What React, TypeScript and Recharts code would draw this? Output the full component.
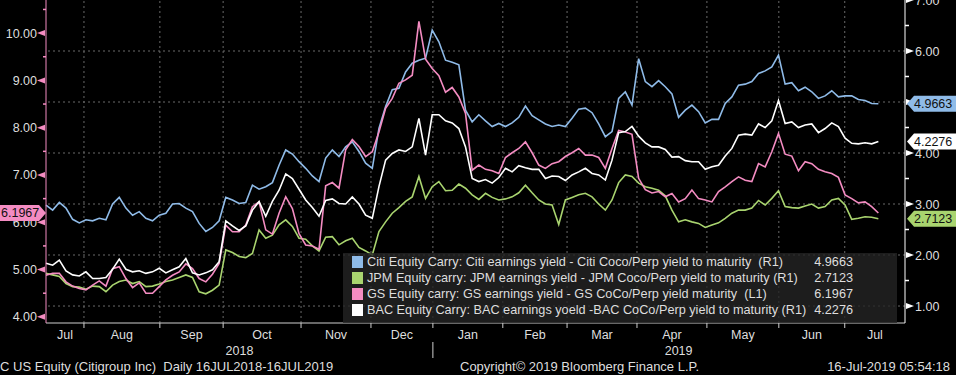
import React from 'react'
import { LineChart, Line, XAxis, YAxis, ReferenceLine } from 'recharts'

const W = 956
const H = 375

// sampled every 2 trading days, 16 Jul 2018 .. 16 Jul 2019
const CITI = [
  2.98, 2.88, 3.03, 2.92, 2.70, 2.63, 2.69, 2.67, 2.72, 2.69, 3.00, 3.13, 2.92, 2.78, 2.85, 2.72, 2.67, 2.78, 2.82, 3.00, 3.01, 2.92,
  2.85, 2.62, 2.46, 2.54, 2.67, 3.13, 3.08, 3.01, 3.03, 3.37, 3.29, 3.34, 3.42, 3.76, 4.06, 3.98, 3.83, 3.70, 3.55, 3.44, 3.90, 4.06,
  3.93, 4.12, 4.22, 4.03, 3.80, 3.70, 4.48, 4.91, 5.24, 5.27, 5.59, 5.76, 5.82, 5.86, 6.41, 6.18, 5.82, 5.78, 5.73, 4.84, 4.61,
  4.75, 4.63, 4.52, 4.58, 4.52, 4.59, 4.70, 4.92, 4.73, 4.65, 4.57, 4.52, 4.55, 4.52, 4.68, 4.86, 4.88, 4.79, 4.57, 4.32, 4.42, 5.07,
  5.20, 4.94, 5.85, 5.40, 5.30, 5.42, 5.30, 5.16, 4.70, 4.84, 4.94, 4.81, 4.59, 4.66, 4.66, 4.97, 5.10, 5.33, 5.35, 5.40, 5.56, 5.61,
  5.69, 5.92, 5.35, 5.38, 5.22, 5.29, 5.20, 5.07, 5.12, 5.22, 5.10, 5.12, 5.12, 5.05, 5.03, 4.97, 4.9663,
]
const JPM = [
  1.64, 1.61, 1.58, 1.44, 1.38, 1.37, 1.33, 1.39, 1.38, 1.28, 1.41, 1.48, 1.51, 1.44, 1.48, 1.38, 1.39, 1.43, 1.48, 1.51, 1.56, 1.61,
  1.56, 1.28, 1.24, 1.31, 1.41, 2.10, 2.05, 1.97, 1.95, 2.03, 2.49, 2.33, 2.39, 2.59, 2.69, 2.56, 2.33, 2.31, 2.18, 2.08, 2.35, 2.36,
  2.20, 2.28, 2.33, 2.15, 2.08, 2.00, 2.46, 2.65, 2.82, 2.93, 3.05, 3.14, 3.54, 3.11, 3.34, 3.44, 3.26, 3.27, 3.39, 3.31, 3.18,
  3.09, 3.21, 3.13, 3.08, 3.10, 3.14, 3.22, 3.37, 3.22, 3.08, 3.00, 2.98, 2.60, 3.08, 3.13, 3.18, 3.21, 3.14, 3.00, 2.88, 3.08, 3.42,
  3.57, 3.54, 3.41, 3.34, 3.31, 3.27, 3.16, 2.88, 2.65, 2.69, 2.65, 2.62, 2.54, 2.59, 2.63, 2.72, 2.82, 2.88, 2.88, 2.92, 3.07, 2.98,
  3.11, 3.26, 2.95, 2.93, 2.92, 2.96, 3.00, 2.92, 2.95, 3.08, 3.11, 2.98, 2.70, 2.72, 2.75, 2.74, 2.7123,
]
const GS = [
  4.88, 4.92, 4.92, 4.74, 4.65, 4.60, 4.57, 4.67, 4.76, 4.65, 5.02, 5.06, 4.81, 4.62, 4.72, 4.50, 4.50, 4.64, 4.78, 4.88, 4.95, 5.12,
  5.02, 4.81, 4.74, 4.90, 5.13, 5.94, 5.80, 5.80, 5.94, 6.33, 6.43, 5.84, 5.75, 6.19, 6.54, 6.29, 5.76, 5.52, 5.50, 5.43, 6.77, 6.84,
  6.72, 7.53, 7.75, 7.60, 7.39, 7.49, 7.91, 8.41, 8.62, 8.94, 9.01, 9.11, 10.25, 9.45, 9.25, 9.10, 8.75, 8.85, 8.65, 8.30, 7.10,
  7.21, 7.12, 7.09, 7.03, 7.37, 7.47, 7.56, 7.70, 7.47, 7.21, 7.14, 7.24, 7.28, 7.39, 7.47, 7.56, 7.42, 7.42, 7.37, 7.14, 7.56, 7.94,
  7.91, 7.86, 6.93, 6.69, 6.62, 6.65, 6.54, 6.61, 6.43, 6.50, 6.68, 6.50, 6.47, 6.43, 6.65, 6.75, 6.86, 6.96, 6.89, 6.86, 7.24, 7.17,
  7.49, 7.88, 7.44, 7.40, 7.09, 7.28, 7.24, 7.12, 7.07, 7.03, 6.95, 6.58, 6.50, 6.41, 6.43, 6.33, 6.1967,
]
const BAC = [
  1.84, 1.80, 1.90, 1.69, 1.61, 1.59, 1.67, 1.54, 1.54, 1.56, 1.72, 1.92, 1.72, 1.67, 1.69, 1.64, 1.67, 1.74, 1.65, 1.71, 1.77, 1.93,
  1.65, 1.61, 1.65, 1.71, 1.87, 2.67, 2.57, 2.48, 2.57, 2.88, 3.05, 2.76, 3.05, 3.27, 3.59, 3.50, 3.29, 3.08, 2.93, 2.76, 3.07, 3.10,
  3.01, 3.00, 3.14, 3.00, 2.78, 2.72, 3.34, 3.86, 3.99, 4.06, 4.03, 4.12, 4.68, 3.96, 4.75, 4.75, 4.63, 4.59, 4.48, 4.12, 3.50,
  3.44, 3.48, 3.41, 3.52, 3.70, 3.63, 3.75, 3.71, 3.68, 3.68, 3.50, 3.55, 3.54, 3.46, 3.57, 3.63, 3.70, 3.60, 3.57, 3.47, 3.86, 4.40,
  4.42, 4.52, 4.33, 4.20, 4.12, 4.12, 4.07, 3.92, 3.93, 3.85, 3.83, 3.83, 3.68, 3.73, 3.76, 3.94, 4.09, 4.35, 4.37, 4.35, 4.57, 4.50,
  4.63, 5.03, 4.58, 4.61, 4.50, 4.55, 4.57, 4.40, 4.48, 4.59, 4.52, 4.29, 4.19, 4.18, 4.20, 4.18, 4.2276,
]

const STEP = 2
const X_END = 258
// trading-day index where each month starts
const MONTH_STARTS = [0, 11.4, 34.2, 53.2, 76.6, 97.6, 116.2, 137.2, 156.5, 177.5, 198.5, 220.1, 239.9]
const MONTHS = ['Jul', 'Aug', 'Sep', 'Oct', 'Nov', 'Dec', 'Jan', 'Feb', 'Mar', 'Apr', 'May', 'Jun', 'Jul']
const YEARS = ['2018', '2019']
const YEAR_T = [58.1, 190]
const YEAR_BREAK = 116.2

const LEFT_TICKS = [4, 4.5, 5, 5.5, 6, 6.5, 7, 7.5, 8, 8.5, 9, 9.5, 10, 10.5]
const RIGHT_TICKS = [1, 1.5, 2, 2.5, 3, 3.5, 4, 4.5, 5, 5.5, 6, 6.5, 7]
const GRID_Y = [1, 2, 3, 4, 5, 6]

const BLUE = '#8fbbe8'
const GREEN = '#a9d46f'
const PINK = '#f48cc2'
const WHITE = '#ffffff'
const TEXT = '#dedede'
const GRID = '#6a6a6a'
const FONT = '"Liberation Sans", Arial, sans-serif'

const SERIES = [
  { key: 'citi', axis: 'right', color: BLUE, values: CITI, name: 'Citi Equity Carry: Citi earnings yield - Citi Coco/Perp yield to maturity  (R1)' },
  { key: 'jpm', axis: 'right', color: GREEN, values: JPM, name: 'JPM Equity carry: JPM earnings yield - JPM Coco/Perp yield to maturity (R1)' },
  { key: 'gs', axis: 'left', color: PINK, values: GS, name: 'GS Equity carry: GS earnings yield - GS CoCo/Perp yield maturity  (L1)' },
  { key: 'bac', axis: 'right', color: WHITE, values: BAC, name: 'BAC Equity Carry: BAC earnings yoeld -BAC CoCo/Perp yield to maturity (R1)' },
]
const last = (a: number[]) => a[a.length - 1]

const data = CITI.map((_, i) => ({ t: i * STEP, citi: CITI[i], jpm: JPM[i], gs: GS[i], bac: BAC[i] }))

// last-value badges ride on the axes as extra ticks, drawn after the normal ones
const badgesFor = (axis: string) => SERIES.filter(s => s.axis === axis).map(s => ({ v: last(s.values), color: s.color }))
const LEFT_BADGES = badgesFor('left')
const RIGHT_BADGES = badgesFor('right')

// x ticks: month starts (tick marks), month names (mid-month) and years
const X_TICKS: { t: number; kind: string; label?: string }[] = []
MONTH_STARTS.forEach((t, i) => {
  if (i > 0) X_TICKS.push({ t, kind: 'start' })
  const next = i < MONTH_STARTS.length - 1 ? MONTH_STARTS[i + 1] : X_END
  X_TICKS.push({ t: (t + next) / 2, kind: 'month', label: MONTHS[i] })
})
YEARS.forEach((y, i) => X_TICKS.push({ t: YEAR_T[i], kind: 'year', label: y }))

function XTick({ x, y, payload }: any) {
  const item = X_TICKS.find(d => d.t === payload.value)
  if (!item) return null
  if (item.kind === 'start') {
    return (
      <g>
        <line x1={x} x2={x} y1={y} y2={y + 5} stroke="#cfcfcf" />
        {item.t === YEAR_BREAK && <line x1={x} x2={x} y1={y + 19} y2={y + 35} stroke="#cfcfcf" />}
      </g>
    )
  }
  return (
    <text x={x} y={y + (item.kind === 'month' ? 16 : 32)} textAnchor="middle" fill={TEXT}
      fontSize={12.5} fontFamily={FONT}>{item.label}</text>
  )
}

function LeftTick({ x, y, payload }: any) {
  const v = payload.value
  const badge = LEFT_BADGES.find(b => b.v === v)
  if (badge) {
    const pts = `0,${y - 8} ${x - 7},${y - 8} ${x},${y} ${x - 7},${y + 8} 0,${y + 8}`
    return (
      <g>
        <polygon points={pts} fill={badge.color} />
        <text x={1} y={y + 4.5} fill="#111" fontSize={12.5} fontFamily={FONT}>{v.toFixed(4)}</text>
      </g>
    )
  }
  if (v % 1 !== 0) return <line x1={x - 3} x2={x} y1={y} y2={y} stroke={PINK} strokeWidth={1.5} />
  return (
    <g>
      <text x={x - 9} y={y + 4.5} textAnchor="end" fill={TEXT} fontSize={12.5} fontFamily={FONT}>{v.toFixed(2)}</text>
      <polygon points={`${x - 9},${y} ${x - 1},${y - 3} ${x - 1},${y + 3}`} fill={PINK} />
    </g>
  )
}

function RightTick({ x, y, payload }: any) {
  const v = payload.value
  const badge = RIGHT_BADGES.find(b => b.v === v)
  if (badge) {
    const tip = x + 2
    const pts = `${tip},${y} ${tip + 7},${y - 8} ${W},${y - 8} ${W},${y + 8} ${tip + 7},${y + 8}`
    return (
      <g>
        <polygon points={pts} fill={badge.color} />
        <text x={tip + 7} y={y + 4.5} fill="#111" fontSize={12.5} fontFamily={FONT}>{v.toFixed(4)}</text>
      </g>
    )
  }
  if (v % 1 !== 0) return <line x1={x} x2={x + 4} y1={y} y2={y} stroke={WHITE} strokeWidth={1.5} />
  return (
    <g>
      <polygon points={`${x + 1},${y - 3} ${x + 1},${y + 3} ${x + 9},${y}`} fill={WHITE} />
      <text x={x + 10} y={y + 4.5} fill={TEXT} fontSize={12.5} fontFamily={FONT}>{v.toFixed(2)}</text>
    </g>
  )
}

export default function App() {
  return (
    <div style={{ position: 'relative', width: W, height: H, background: '#000', fontFamily: FONT, overflow: 'hidden' }}>
      <style>{'body{margin:0;background:#000}'}</style>
      <LineChart width={W} height={H} data={data} margin={{ top: 0, right: 0, bottom: 0, left: 0 }}>
        <XAxis dataKey="t" type="number" domain={[0, X_END]} ticks={X_TICKS.map(d => d.t)} interval={0}
          height={52} tickSize={0} tickMargin={0} tickLine={false} axisLine={{ stroke: '#cfcfcf' }} tick={<XTick />} />
        <YAxis yAxisId="left" orientation="left" width={46} domain={[3.87, 10.7]}
          ticks={[...LEFT_TICKS, ...LEFT_BADGES.map(b => b.v)]} interval={0}
          allowDataOverflow tickSize={0} tickMargin={0} tickLine={false} axisLine={{ stroke: PINK }} tick={<LeftTick />} />
        <YAxis yAxisId="right" orientation="right" width={51} domain={[0.667, 7]}
          ticks={[...RIGHT_TICKS, ...RIGHT_BADGES.map(b => b.v)]} interval={0}
          allowDataOverflow tickSize={0} tickMargin={0} tickLine={false} axisLine={{ stroke: WHITE }} tick={<RightTick />} />

        {GRID_Y.map(v => (
          <ReferenceLine key={'gy' + v} yAxisId="right" y={v} stroke={GRID} strokeDasharray="2 3" />
        ))}
        {MONTH_STARTS.slice(1).map(t => (
          <ReferenceLine key={'gx' + t} yAxisId="left" x={t} stroke={GRID} strokeDasharray="2 3" />
        ))}

        {SERIES.map(s => (
          <Line key={s.key} yAxisId={s.axis} dataKey={s.key} type="linear" stroke={s.color} strokeWidth={1.6}
            dot={false} activeDot={false} isAnimationActive={false} />
        ))}
      </LineChart>

      <div style={{
        position: 'absolute', left: 343, top: 253, width: 554, height: 70,
        background: 'rgba(36,36,36,0.8)', color: TEXT, fontSize: 12.7,
      }}>
        {SERIES.map((s, i) => (
          <div key={s.key} style={{ position: 'absolute', left: 0, right: 0, top: 1 + i * 16, height: 16, lineHeight: '16px', whiteSpace: 'pre' }}>
            <span style={{ position: 'absolute', left: 9, top: 2, width: 11, height: 12, background: s.color }} />
            <span style={{ position: 'absolute', left: 24 }}>{s.name}</span>
            <span style={{ position: 'absolute', right: 44 }}>{last(s.values).toFixed(4)}</span>
          </div>
        ))}
      </div>

      <div style={{ position: 'absolute', left: 0, top: 359, fontSize: 13, color: TEXT, whiteSpace: 'pre' }}>
        {'C US Equity (Citigroup Inc)  Daily 16JUL2018-16JUL2019'}
      </div>
      <div style={{ position: 'absolute', left: 460, top: 359, fontSize: 13, color: TEXT }}>
        Copyright© 2019 Bloomberg Finance L.P.
      </div>
      <div style={{ position: 'absolute', right: 6, top: 359, fontSize: 13, color: TEXT }}>
        16-Jul-2019 05:54:18
      </div>
    </div>
  )
}
